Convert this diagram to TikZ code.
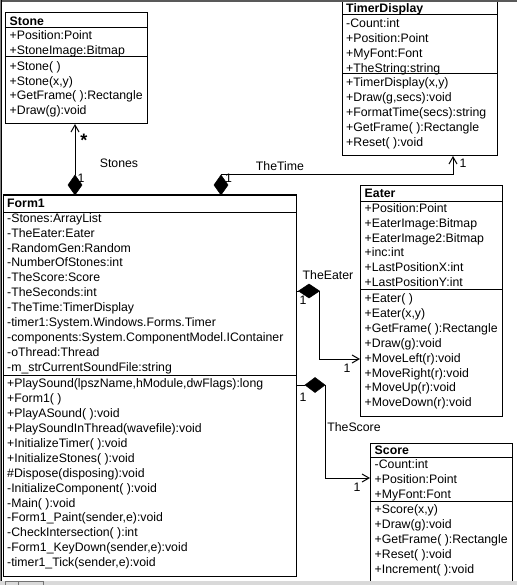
\documentclass[tikz,border=0pt]{standalone}
\usepackage{fontspec}
\setmainfont{Liberation Sans}
\usetikzlibrary{shapes.geometric,arrows.meta}
\newcommand\rowfont{\fontsize{12.3}{15}\selectfont}
\newcommand\ttlfont{\fontsize{12.3}{15}\selectfont\bfseries}
\tikzset{
 cls/.style={draw, line width=1pt, rectangle, inner sep=0pt, outer sep=0pt, anchor=north west},
 row/.style={anchor=base west, inner sep=0pt, font=\rowfont},
 ttl/.style={anchor=base west, inner sep=0pt, font=\ttlfont},
 lbl/.style={anchor=base, inner sep=0pt, font=\rowfont},
 dia/.style={diamond, fill=black, draw=black, line width=0.5pt, inner sep=0pt, outer sep=0pt},
 con/.style={line width=1pt},
 arr/.style={con, -{Straight Barb[length=7pt,width=8pt,line width=1pt]}},
 sep/.style={line width=1pt},
}
\newcommand\crows[5]{%
 \foreach \rowtxt [count=\i] in {#5} \node[row] (#1-\i) at (#2,{#3+4.4+#4*(\i-1)}) {\rowtxt};}
\begin{document}
\begin{tikzpicture}[x=1pt,y=-1pt]
\useasboundingbox (0,0) rectangle (517,585);
\clip (0,0) rectangle (517,585);
\fill[white] (0,0) rectangle (517,585);

% Stone
\node[cls, minimum width=142pt, minimum height=111pt] (stone) at (5,13) {};
\draw[sep] (stone.west |- 0,28) -- (stone.east |- 0,28);
\draw[sep] (stone.west |- 0,57) -- (stone.east |- 0,57);
\node[ttl] (stone-t) at (9.5,25.4) {Stone};
\crows{stonea}{9.5}{35}{15.5}{+Position:Point,+StoneImage:Bitmap}
\crows{stonem}{9.5}{66}{14.8}{+Stone( ),{+Stone(x,y)},+GetFrame( ):Rectangle,+Draw(g):void}

% TimerDisplay
\node[cls, minimum width=155pt, minimum height=156pt] (timer) at (342,0) {};
\draw[sep] (timer.west |- 0,15) -- (timer.east |- 0,15);
\draw[sep] (timer.west |- 0,74) -- (timer.east |- 0,74);
\node[ttl] (timer-t) at (346,12.7) {TimerDisplay};
\crows{timera}{346}{23.3}{14.8}{-Count:int,+Position:Point,+MyFont:Font,+TheString:string}
\crows{timerm}{346}{82.3}{15}{{+TimerDisplay(x,y)},{+Draw(g,secs):void},+FormatTime(secs):string,+GetFrame( ):Rectangle,+Reset( ):void}

% Form1
\node[cls, minimum width=293pt, minimum height=381pt] (form1) at (3,195) {};
\draw[sep] (form1.west |- 0,212) -- (form1.east |- 0,212);
\draw[sep] (form1.west |- 0,375) -- (form1.east |- 0,375);
\node[ttl] (form1-t) at (7,207.4) {Form1};
\crows{form1a}{7}{217.7}{14.96}{-Stones:ArrayList,-TheEater:Eater,-RandomGen:Random,-NumberOfStones:int,-TheScore:Score,-TheSeconds:int,-TheTime:TimerDisplay,-timer1:System.Windows.Forms.Timer,-components:System.ComponentModel.IContainer,-oThread:Thread,-m\_strCurrentSoundFile:string}
\crows{form1m}{7}{383.3}{14.92}{{+PlaySound(lpszName,hModule,dwFlags):long},+Form1( ),+PlayASound( ):void,+PlaySoundInThread(wavefile):void,+InitializeTimer( ):void,+InitializeStones( ):void,\#Dispose(disposing):void,-InitializeComponent( ):void,-Main( ):void,{-Form1\_Paint(sender,e):void},-CheckIntersection( ):int,{-Form1\_KeyDown(sender,e):void},{-timer1\_Tick(sender,e):void}}

% Eater
\node[cls, minimum width=142pt, minimum height=230pt] (eater) at (360,186) {};
\draw[sep] (eater.west |- 0,201.5) -- (eater.east |- 0,201.5);
\draw[sep] (eater.west |- 0,289.3) -- (eater.east |- 0,289.3);
\node[ttl] (eater-t) at (364.5,197.7) {Eater};
\crows{eatera}{364.5}{208.3}{14.7}{+Position:Point,+EaterImage:Bitmap,+EaterImage2:Bitmap,+inc:int,+LastPositionX:int,+LastPositionY:int}
\crows{eaterm}{364.5}{298.3}{14.86}{+Eater( ),{+Eater(x,y)},+GetFrame( ):Rectangle,+Draw(g):void,+MoveLeft(r):void,+MoveRight(r):void,+MoveUp(r):void,+MoveDown(r):void}

% Score
\node[cls, minimum width=142pt, minimum height=157pt] (score) at (370,443) {};
\draw[sep] (score.west |- 0,457) -- (score.east |- 0,457);
\draw[sep] (score.west |- 0,501) -- (score.east |- 0,501);
\node[ttl] (score-t) at (374.5,454.4) {Score};
\crows{scorea}{374.5}{464}{15.1}{-Count:int,+Position:Point,+MyFont:Font}
\crows{scorem}{374.5}{509.3}{15}{{+Score(x,y)},+Draw(g):void,+GetFrame( ):Rectangle,+Reset( ):void,+Increment( ):void}

% connectors
\node[dia, minimum width=14pt, minimum height=20pt] (d1) at (75,185) {};
\draw[arr] (d1.north) -- (d1.north |- stone.south);
\node[dia, minimum width=14pt, minimum height=20pt] (d2) at (221,185) {};
\coordinate (tx) at (453,0);
\draw[arr] (d2.north) -| (tx |- timer.south);
\node[dia, minimum width=21pt, minimum height=14pt] (d3) at (309,291) {};
\draw[con] (form1.east |- d3.west) -- (d3.west);
\coordinate (ein) at (0,359);
\draw[arr] (d3.east) |- (eater.west |- ein);
\node[dia, minimum width=20pt, minimum height=15pt] (d4) at (315,385) {};
\draw[con] (form1.east |- d4.west) -- (d4.west);
\coordinate (sin) at (0,478);
\draw[arr] (d4.east) |- (score.west |- sin);

% labels
\node[lbl] (lstar) at (84,147) {\fontsize{18}{18}\selectfont\bfseries *};
\node[lbl] (m1) at (81,182.4) {1};
\node[lbl] (m2) at (228.5,182.4) {1};
\node[lbl] (m3) at (463,167.4) {1};
\node[lbl] (m4) at (303,304.4) {1};
\node[lbl] (m5) at (347,372.4) {1};
\node[lbl] (m6) at (303,401.4) {1};
\node[lbl] (m7) at (357,491.4) {1};
\node[lbl] (lstones) at (119,167.4) {Stones};
\node[lbl] (ltime) at (280,170.4) {TheTime};
\node[lbl] (leater) at (328,279.4) {TheEater};
\node[lbl] (lscore) at (354,431.4) {TheScore};

% window frame and scrollbar band
\fill[black!65] (0,0) rectangle (517,2);
\fill[gray] (0,0) rectangle (1,585);
\fill[black] (1,0) rectangle (2,585);
\fill[black!15] (0,581) rectangle (517,585);
\draw[black!55, line width=0.8pt] (5,581.5) -- (43,581.5);
\draw[black!55, line width=0.8pt] (5,581) -- (5,585) (18,581) -- (18,585) (43,581) -- (43,585);
\end{tikzpicture}
\end{document}
